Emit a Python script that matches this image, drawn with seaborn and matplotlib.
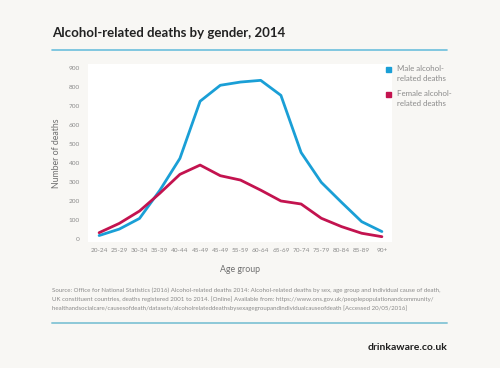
import matplotlib
matplotlib.use("Agg")
import matplotlib.pyplot as plt
import numpy as np
import pandas as pd
import seaborn as sns

age_groups = ["20-24", "25-29", "30-34", "35-39", "40-44", "45-49", "45-49", "55-59",
              "60-64", "65-69", "70-74", "75-79", "80-84", "85-89", "90+"]
male = [18, 52, 108, 255, 424, 725, 809, 826, 835, 756, 455, 298, 193, 91, 39]
female = [33, 82, 147, 240, 340, 389, 333, 310, 257, 200, 184, 109, 65, 30, 12]
series_names = ["Male alcohol-\nrelated deaths", "Female alcohol-\nrelated deaths"]
y_ticks = [0, 100, 200, 300, 400, 500, 600, 700, 800, 900]

BG = "#f8f7f4"
BLUE = "#1a9fd6"
RED = "#c3134f"
GREY = "#8a8a8a"

sns.set_theme(style="white")
plt.rcParams["font.family"] = ["Lato", "DejaVu Sans"]

pos = np.arange(len(age_groups))
df = pd.DataFrame({
    "pos": np.concatenate([pos, pos]),
    "deaths": male + female,
    "series": [series_names[0]] * len(pos) + [series_names[1]] * len(pos),
})

fig = plt.figure(figsize=(5.0, 3.68), dpi=100, facecolor=BG)
ax = fig.add_axes([88 / 500, 1 - 242 / 368, 304 / 500, 178 / 368])
ax.set_facecolor("white")

sns.lineplot(data=df, x="pos", y="deaths", hue="series",
             palette={series_names[0]: BLUE, series_names[1]: RED},
             linewidth=2.0, ax=ax, legend=False)

ax.set_xlim(-0.55, 14.5)
ax.set_ylim(-16, 921)
ax.set_xticks(pos)
ax.set_xticklabels(age_groups)
ax.set_yticks(y_ticks)
ax.tick_params(axis="both", length=0, labelsize=4.6, colors=GREY)
ax.tick_params(axis="x", pad=4)
ax.tick_params(axis="y", pad=6)
for s in ax.spines.values():
    s.set_visible(False)
ax.set_xlabel("Age group", fontsize=6.3, color="#6f6f6f", labelpad=9)
ax.set_ylabel("Number of deaths", fontsize=6.3, color="#6f6f6f", labelpad=5)

# legend
for i, (name, col) in enumerate(zip(series_names, [BLUE, RED])):
    y = 69 + i * 25
    fig.patches.append(plt.Rectangle((386 / 500, 1 - (y + 3) / 368), 5 / 500, 5 / 368,
                                     transform=fig.transFigure, color=col))
    fig.text(397 / 500, 1 - (y - 4) / 368, name, fontsize=5.7, color=GREY,
             va="top", ha="left", linespacing=1.45)

fig.text(52 / 500, 1 - 33 / 368, "Alcohol-related deaths by gender, 2014",
         fontsize=9.5, fontweight="bold", color="#222222", va="center", ha="left")
fig.add_artist(plt.Line2D([52 / 500, 447 / 500], [1 - 50 / 368, 1 - 50 / 368],
                          color="#6cbfdc", linewidth=1.2))

source = ("Source: Office for National Statistics (2016) Alcohol-related deaths 2014: Alcohol-related deaths by sex, age group and individual cause of death,\n"
          "UK constituent countries, deaths registered 2001 to 2014. [Online] Available from: https://www.ons.gov.uk/peoplepopulationandcommunity/\n"
          "healthandsocialcare/causesofdeath/datasets/alcoholrelateddeathsbysexagegroupandindividualcauseofdeath [Accessed 20/05/2016]")
fig.text(52 / 500, 1 - 287 / 368, source, fontsize=4.45, color=GREY,
         va="top", ha="left", linespacing=1.8)
fig.add_artist(plt.Line2D([52 / 500, 447 / 500], [1 - 323 / 368, 1 - 323 / 368],
                          color="#8dc8d8", linewidth=1.4))

fig.text(447 / 500, 1 - 348 / 368, "drinkaware.co.uk", fontsize=7.5, fontweight="bold",
         color="#1e1e1e", va="center", ha="right")

fig.savefig("out.png", dpi=100, facecolor=BG)
